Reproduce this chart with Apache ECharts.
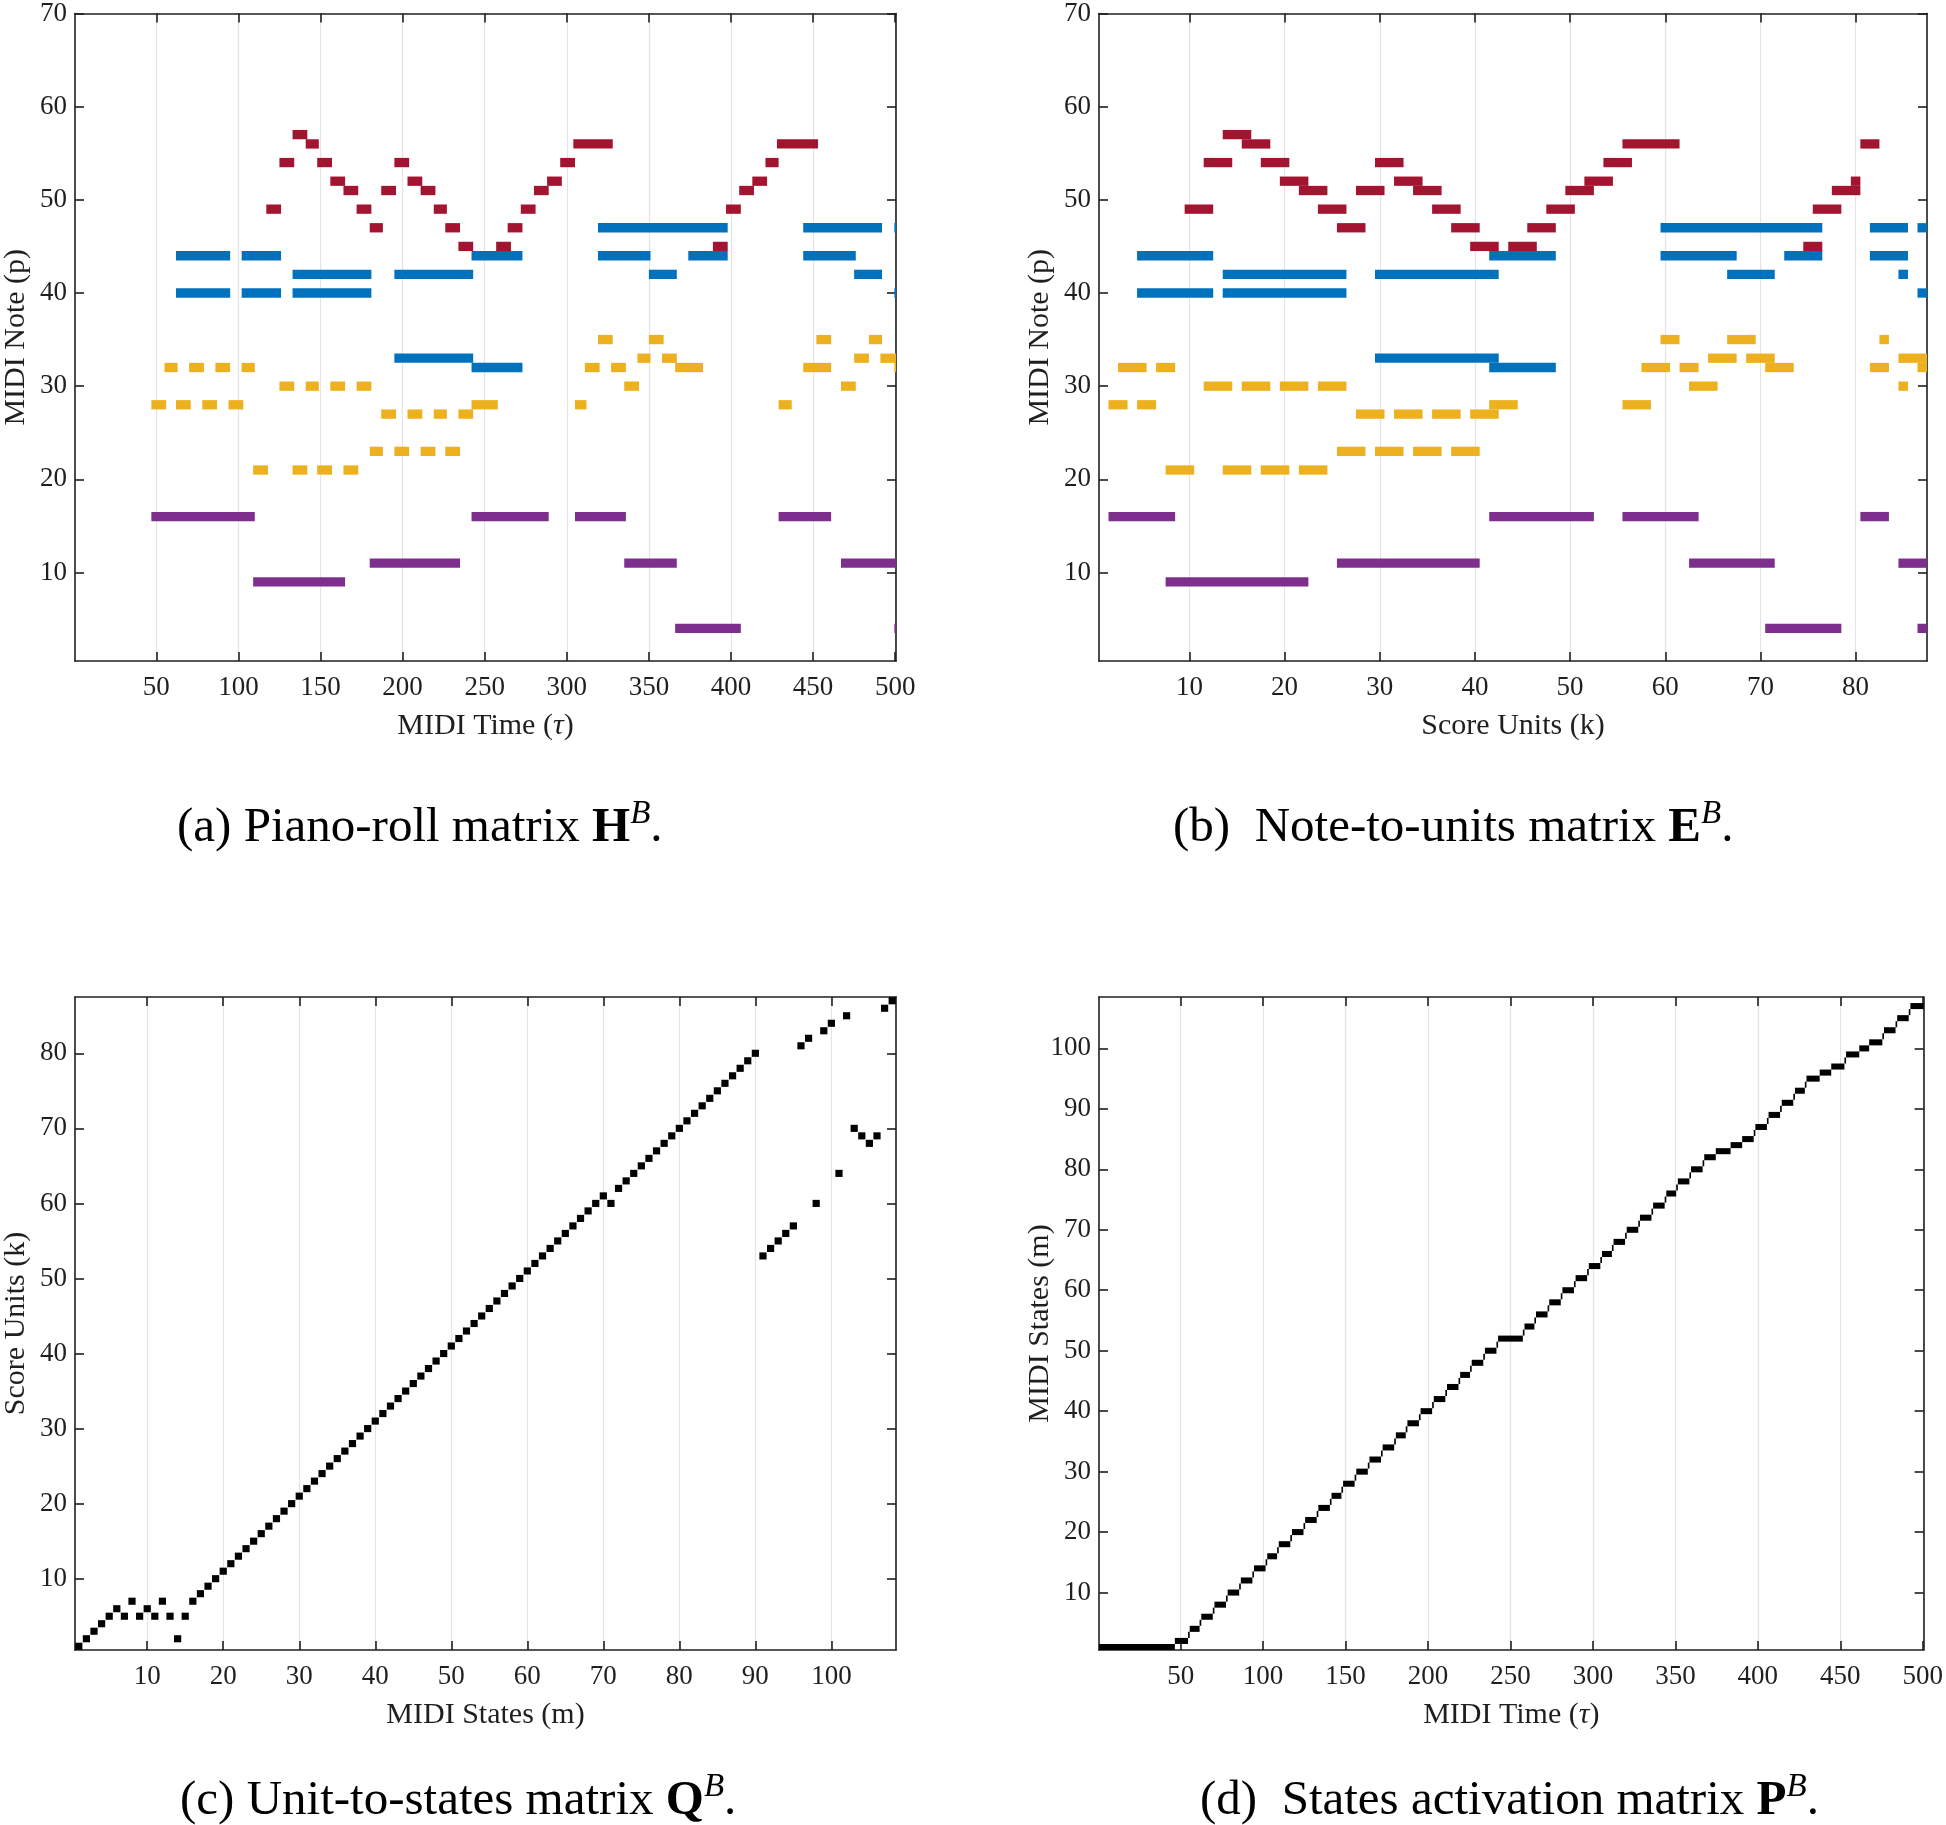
<!DOCTYPE html>
<html><head><meta charset="utf-8">
<script src="https://cdn.jsdelivr.net/npm/echarts@6/dist/echarts.min.js"></script>
<style>html,body{margin:0;padding:0;background:#fff}#c{width:1946px;height:1825px}</style>
</head><body><div id="c"></div>
<script>
// ---------- Panel (a): piano-roll H^B, notes as [onset tau, offset tau, MIDI pitch] ----------
const aRed = [
  [117,126,49],[125,134,54],[133,142,57],[141,149,56],[148,157,54],[156,165,52],[164,173,51],[172,181,49],[180,188,47],
  [187,196,51],[195,204,54],[203,212,52],[211,220,51],[219,227,49],[226,235,47],[234,243,45],
  [257,266,45],[264,273,47],[272,281,49],[280,289,51],[288,297,52],[296,305,54],[304,328,56],
  [389,398,45],[397,406,49],[405,414,51],[413,422,52],[421,429,54],[428,453,56]
];
const aBlue = [
  [62,95,44],[102,126,44],[242,273,44],[319,351,44],[374,398,44],[444,476,44],
  [133,181,42],[195,243,42],[350,367,42],[475,492,42],
  [62,95,40],[102,126,40],[133,181,40],[499.5,500.5,40],
  [319,398,47],[444,492,47],[499.5,500.5,47],
  [195,243,33],[242,273,32]
];
const aYellow = [
  [55,63,32],[70,79,32],[86,95,32],[102,110,32],[311,320,32],[327,336,32],[366,383,32],[444,461,32],[499.5,500.5,32],
  [47,56,28],[62,71,28],[78,87,28],[94,103,28],[242,258,28],[305,312,28],[429,437,28],
  [125,134,30],[141,149,30],[156,165,30],[172,181,30],[335,344,30],[467,476,30],
  [109,118,21],[133,142,21],[148,157,21],[164,173,21],
  [187,196,27],[203,212,27],[219,227,27],[234,243,27],
  [180,188,23],[195,204,23],[211,220,23],[226,235,23],
  [319,328,35],[350,359,35],[452,461,35],[484,492,35],
  [343,351,33],[358,367,33],[475,484,33],[491,500.5,33]
];
const aPurple = [
  [47,110,16],[242,289,16],[305,336,16],[429,461,16],
  [109,165,9],
  [180,235,11],[335,367,11],[467,500.5,11],
  [366,406,4],[499.5,500.5,4]
];

// ---------- Panel (b): note-to-units E^B, notes as [first unit, last unit, MIDI pitch] ----------
const bRed = [
  [10,12,49],[24,26,49],[36,38,49],[48,50,49],[76,78,49],
  [12,14,54],[18,20,54],[30,32,54],[54,56,54],
  [14,16,57],
  [16,18,56],[56,61,56],[81,82,56],
  [20,22,52],[32,34,52],[52,54,52],[80,80,52],
  [22,24,51],[28,30,51],[34,36,51],[50,52,51],[78,80,51],
  [26,28,47],[38,40,47],[46,48,47],
  [40,42,45],[44,46,45],[75,76,45]
];
const bBlue = [
  [5,12,44],[42,48,44],[60,67,44],[73,76,44],[82,85,44],
  [14,26,42],[30,42,42],[67,71,42],[85,85,42],
  [5,12,40],[14,26,40],[87,87,40],
  [60,76,47],[82,85,47],[87,87,47],
  [30,42,33],[42,48,32]
];
const bYellow = [
  [3,5,32],[7,8,32],[58,60,32],[62,63,32],[71,73,32],[82,83,32],[87,87,32],
  [2,3,28],[5,6,28],[42,44,28],[56,58,28],
  [12,14,30],[16,18,30],[20,22,30],[24,26,30],[63,65,30],[85,85,30],
  [8,10,21],[14,16,21],[18,20,21],[22,24,21],
  [28,30,27],[32,34,27],[36,38,27],[40,42,27],
  [26,28,23],[30,32,23],[34,36,23],[38,40,23],
  [60,61,35],[67,69,35],[83,83,35],
  [65,67,33],[69,71,33],[85,87,33]
];
const bPurple = [
  [2,8,16],[42,52,16],[56,63,16],[81,83,16],
  [8,22,9],
  [26,40,11],[63,71,11],[85,87,11],
  [71,78,4],[87,87,4]
];

// ---------- Panel (c): unit-to-states Q^B (state m -> score unit k) ----------
const qStates = [1,2,3,4,5,6,7,8,9,10,11,12,13,14,15,16,17,18,19,20,21,22,23,24,25,26,27,28,29,30,
  31,32,33,34,35,36,37,38,39,40,41,42,43,44,45,46,47,48,49,50,51,52,53,54,55,56,57,58,59,60,
  61,62,63,64,65,66,67,68,69,70,71,72,73,74,75,76,77,78,79,80,81,82,83,84,85,86,87,88,89,90,
  91,92,93,94,95,96,97,98,99,100,101,102,103,104,105,106,107,108];
const qUnits = [1,2,3,4,5,6,5,7,5,6,5,7,5,2,5,
  7,8,9,10,11,12,13,14,15,16,17,18,19,20,21,22,23,24,25,26,27,28,29,30,31,32,33,34,35,36,
  37,38,39,40,41,42,43,44,45,46,47,48,49,50,51,52,53,54,55,56,57,58,59,60,61,
  60,
  62,63,64,65,66,67,68,69,70,71,72,73,74,75,76,77,78,79,80,
  53,54,55,56,57,
  81,82,60,83,84,64,85,70,69,68,69,86,87];

// ---------- Panel (d): states activation P^B (state m becomes active at frame tau) ----------
const pStates = [1,2,3,4,5,6,7,8,9,10,11,12,13,14,15,16,17,18,19,20,21,22,23,24,25,26,27,28,29,30,
  31,32,33,34,35,36,37,38,39,40,41,42,43,44,45,46,47,48,49,50,51,52,53,54,55,56,57,58,59,60,
  61,62,63,64,65,66,67,68,69,70,71,72,73,74,75,76,77,78,79,80,81,82,83,84,85,86,87,88,89,90,
  91,92,93,94,95,96,97,98,99,100,101,102,103,104,105,106,107];
const pOnsets = [1,47,55,56,62,63,70,71,78,79,86,87,94,95,102,103,109,110,117,118,
  125,126,133,134,141,142,148,149,156,157,164,165,172,173,180,181,187,188,195,196,
  203,204,211,212,219,220,226,227,234,235,242,243,258,259,265,266,273,274,281,282,
  289,290,297,298,305,306,312,313,320,321,328,329,336,337,344,345,351,352,359,360,
  367,368,375,384,391,398,399,406,407,414,415,422,423,429,430,438,445,453,454,462,
  468,476,477,484,485,492,493];
const pLastFrame = 500;

// ---------- Tick labels ----------
const ticksTau = [50,100,150,200,250,300,350,400,450,500];
const ticksPitch = [10,20,30,40,50,60,70];
const ticksUnitsX = [10,20,30,40,50,60,70,80];
const ticksStatesX = [10,20,30,40,50,60,70,80,90,100];
const ticksUnitsY = [10,20,30,40,50,60,70,80];
const ticksStatesY = [10,20,30,40,50,60,70,80,90,100];

// ---------- Styling ----------
const FONT = '"Liberation Serif", "Times New Roman", Times, serif';
const INK = '#1f1f1f';
const C_RED = '#A2142F', C_BLUE = '#0072BD', C_YEL = '#EDB120', C_PUR = '#7E2F8E';

const grids = [
  {left:68, top:10, width:828, height:651},
  {left:1099, top:10, width:828, height:651},
  {left:68, top:997, width:828, height:653},
  {left:1099, top:997, width:828, height:653}
];

const richName = {
  i: {fontFamily: FONT, fontSize: 30, fontStyle: 'italic', color: INK}
};

function mkAxis(gi, min, max, ticks, position, name, isX, mirror) {
  return {
    type: 'value', gridIndex: gi, min: min, max: max, position: position,
    axisLine: {show: true, onZero: false, lineStyle: {color: INK, width: 1.6}},
    axisTick: {show: true, inside: true, length: 9, customValues: ticks, lineStyle: {color: INK, width: 1.6}},
    axisLabel: {show: !mirror, customValues: ticks, color: INK, fontFamily: FONT, fontSize: 27,
                margin: isX ? 13 : 8, hideOverlap: false},
    splitLine: {show: isX && !mirror, lineStyle: {color: '#e4e4e4', width: 1.2}},
    name: mirror ? '' : name, nameLocation: 'middle', nameGap: isX ? 50 : 44,
    nameMoveOverlap: false,
    nameTextStyle: {fontFamily: FONT, fontSize: 30, color: INK, rich: richName}
  };
}

const panels = [
  {x: [0.5, 500.5, ticksTau, 'MIDI Time ({i|τ})'], y: [0.5, 70, ticksPitch, 'MIDI Note (p)']},
  {x: [0.5, 87.5, ticksUnitsX, 'Score Units (k)'], y: [0.5, 70, ticksPitch, 'MIDI Note (p)']},
  {x: [0.5, 108.5, ticksStatesX, 'MIDI States (m)'], y: [0.5, 87.5, ticksUnitsY, 'Score Units (k)']},
  {x: [0.5, 500.5, ticksTau, 'MIDI Time ({i|τ})'], y: [0.5, 108.5, ticksStatesY, 'MIDI States (m)']}
];

const xAxes = [], yAxes = [];
panels.forEach((p, gi) => {
  xAxes.push(mkAxis(gi, p.x[0], p.x[1], p.x[2], 'bottom', p.x[3], true, false));
  xAxes.push(mkAxis(gi, p.x[0], p.x[1], p.x[2], 'top', '', true, true));
  yAxes.push(mkAxis(gi, p.y[0], p.y[1], p.y[2], 'left', p.y[3], false, false));
  yAxes.push(mkAxis(gi, p.y[0], p.y[1], p.y[2], 'right', '', false, true));
});

function cellRenderer(color, inset) {
  return function (params, api) {
    const x0 = api.value(0), x1 = api.value(1), y = api.value(2);
    const a = api.coord([x0, y + 0.5]);
    const b = api.coord([x1, y - 0.5]);
    const cs = params.coordSys;
    const r = echarts.graphic.clipRectByRect(
      {x: a[0] + inset, y: a[1] + inset, width: b[0] - a[0] - 2 * inset, height: b[1] - a[1] - 2 * inset},
      {x: cs.x, y: cs.y, width: cs.width, height: cs.height});
    if (!r) return null;
    return {type: 'rect', shape: r, style: {fill: color}};
  };
}

function cellSeries(gi, data, color, inset) {
  return {
    type: 'custom', xAxisIndex: gi * 2, yAxisIndex: gi * 2,
    renderItem: cellRenderer(color, inset || 0),
    dimensions: ['x0', 'x1', 'y'],
    encode: {x: [0, 1], y: 2},
    data: data, silent: true, animation: false
  };
}

const asEdges = arr => arr.map(d => [d[0], d[1], d[2]]);
const unitEdges = arr => arr.map(d => [d[0] - 0.5, d[1] + 0.5, d[2]]);
const qData = qStates.map((m, i) => [m - 0.5, m + 0.5, qUnits[i]]);
const pData = pOnsets.map((s, i) => {
  const end = i + 1 < pOnsets.length ? pOnsets[i + 1] - 1 : pLastFrame;
  return [s - 0.5, end + 0.5, pStates[i]];
});

const series = [
  cellSeries(0, asEdges(aPurple), C_PUR),
  cellSeries(0, asEdges(aYellow), C_YEL),
  cellSeries(0, asEdges(aBlue), C_BLUE),
  cellSeries(0, asEdges(aRed), C_RED),
  cellSeries(1, unitEdges(bPurple), C_PUR),
  cellSeries(1, unitEdges(bYellow), C_YEL),
  cellSeries(1, unitEdges(bBlue), C_BLUE),
  cellSeries(1, unitEdges(bRed), C_RED),
  cellSeries(2, qData, '#000000', 0.2),
  cellSeries(3, pData, '#000000', 0)
];

const capRich = {
  b: {fontFamily: FONT, fontSize: 49, fontWeight: 'bold', color: '#000', lineHeight: 60},
  s: {fontFamily: FONT, fontSize: 33, fontStyle: 'italic', color: '#000', lineHeight: 33, verticalAlign: 'top'},
  n: {fontFamily: FONT, fontSize: 49, color: '#000', lineHeight: 60}
};
function caption(x, y, pre, letter) {
  return {
    type: 'text', x: x, y: y, silent: true,
    style: {
      text: '{n|' + pre + '}{b|' + letter + '}{s|B}{n|.}',
      rich: capRich, fontFamily: FONT, fontSize: 49, fill: '#000',
      align: 'left', verticalAlign: 'middle'
    }
  };
}

const option = {
  backgroundColor: '#ffffff',
  animation: false,
  grid: grids,
  xAxis: xAxes,
  yAxis: yAxes,
  series: series,
  graphic: [
    caption(177, 828, '(a) Piano-roll matrix ', 'H'),
    caption(1173, 828, '(b)  Note-to-units matrix ', 'E'),
    caption(180, 1801, '(c) Unit-to-states matrix ', 'Q'),
    caption(1200, 1801, '(d)  States activation matrix ', 'P')
  ]
};

const chart = echarts.init(document.getElementById('c'), null, {renderer: 'canvas'});
chart.setOption(option);
</script>
</body></html>
